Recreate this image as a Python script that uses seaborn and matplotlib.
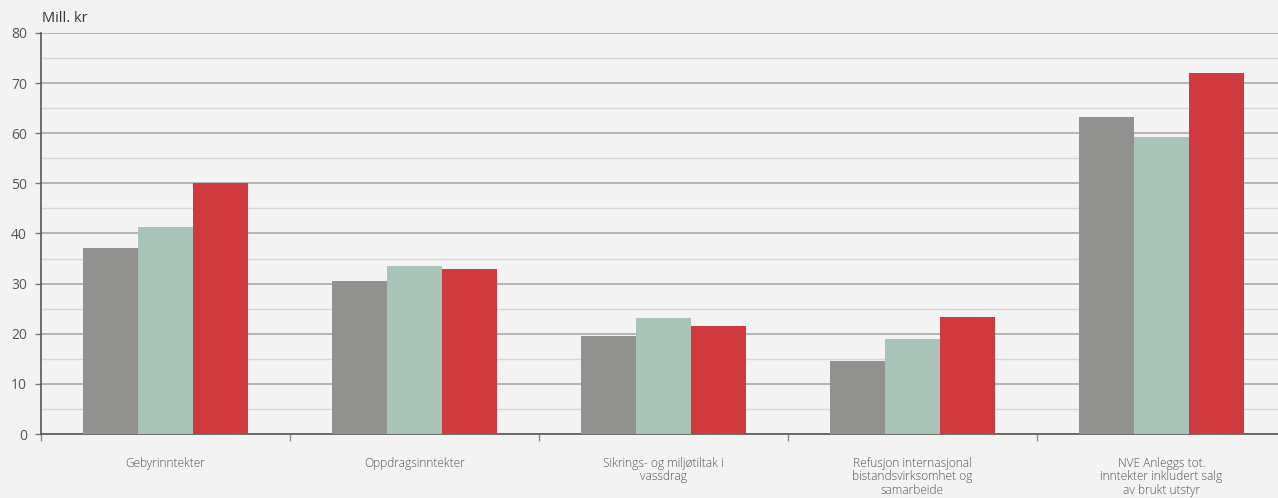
import matplotlib
matplotlib.use("Agg")
import matplotlib.pyplot as plt
import seaborn as sns
import pandas as pd
from matplotlib.ticker import MultipleLocator, FixedLocator

categories = [
    "Gebyrinntekter",
    "Oppdragsinntekter",
    "Sikrings- og miljøtiltak i\nvassdrag",
    "Refusjon internasjonal\nbistandsvirksomhet og\nsamarbeide",
    "NVE Anleggs tot.\ninntekter inkludert salg\nav brukt utstyr",
]
series_names = ["Serie 1", "Serie 2", "Serie 3"]
serie1 = [37.2, 30.5, 19.6, 14.6, 63.3]
serie2 = [41.3, 33.5, 23.1, 19.0, 59.2]
serie3 = [50.0, 33.0, 21.6, 23.3, 72.1]
colors = ["#91928f", "#a8c4b8", "#d0393d"]

rows = []
for name, vals in zip(series_names, [serie1, serie2, serie3]):
    for c, v in zip(categories, vals):
        rows.append({"kategori": c, "serie": name, "verdi": v})
df = pd.DataFrame(rows)

sns.set_style("white")
plt.rcParams["font.family"] = ["Open Sans", "DejaVu Sans"]

fig = plt.figure(figsize=(12.78, 4.98), dpi=100)
fig.patch.set_facecolor("#f3f3f3")
ax = fig.add_axes([41 / 1278, 64 / 498, 1245 / 1278, 401 / 498])
ax.set_facecolor("#f3f3f3")

sns.barplot(data=df, x="kategori", y="verdi", hue="serie", order=categories,
            hue_order=series_names, palette=colors, width=0.663, gap=0,
            saturation=1, edgecolor="none", linewidth=0, legend=False, ax=ax, zorder=3)

ax.set_xlim(-0.5, 4.5)
ax.set_ylim(0, 80)
ax.yaxis.set_major_locator(MultipleLocator(10))
ax.yaxis.set_minor_locator(MultipleLocator(5))
ax.grid(axis="y", which="major", color="#a9a9a9", linewidth=1.2, zorder=0)
ax.grid(axis="y", which="minor", color="#d6d6d6", linewidth=1.0, zorder=0)
ax.set_axisbelow(True)

for s in ["top", "right"]:
    ax.spines[s].set_visible(False)
ax.spines["left"].set_color("#5a5650")
ax.spines["left"].set_linewidth(1.2)
ax.spines["bottom"].set_color("#5a5650")
ax.spines["bottom"].set_linewidth(1.2)

ax.set_xlabel("")
ax.set_ylabel("")
ax.tick_params(axis="y", which="major", left=True, length=4, width=1, color="#777777",
               labelsize=10, labelcolor="#555555", pad=6)
ax.tick_params(axis="y", which="minor", left=False)
ax.set_xticks(range(len(categories)))
ax.set_xticklabels(categories, fontsize=8.6, color="#555555", linespacing=1.05,
                   fontweight="light")
ax.tick_params(axis="x", which="major", bottom=False, pad=13)
ax.xaxis.set_minor_locator(FixedLocator([-0.5, 0.5, 1.5, 2.5, 3.5, 4.5]))
ax.tick_params(axis="x", which="minor", bottom=True, length=5, width=1, color="#888888")

fig.text(42 / 1278, 1 - 18 / 498, "Mill. kr", fontsize=10.5, color="#333333",
         ha="left", va="center")

fig.savefig("out.png", dpi=100, facecolor=fig.get_facecolor())
